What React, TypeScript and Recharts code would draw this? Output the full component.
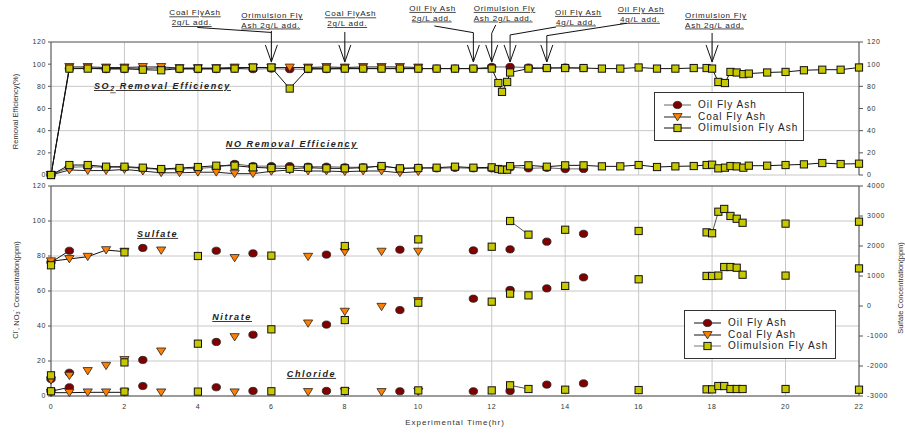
import React from 'react';
import { LineChart, Line, XAxis, YAxis, CartesianGrid, Legend, ReferenceDot } from 'recharts';

const FONT = '"Liberation Sans", Arial, Helvetica, sans-serif';

const OIL = '#800000';
const COAL = '#ff8000';
const OLIM = '#c8c800';

// axis ticks
const evenHours = [0, 2, 4, 6, 8, 10, 12, 14, 16, 18, 20, 22];
const oddHours = [1, 3, 5, 7, 9, 11, 13, 15, 17, 19, 21];
const effTicks = [0, 20, 40, 60, 80, 100, 120];
const concTicks = [0, 20, 40, 60, 80, 100, 120];
const sulfTicks = [-3000, -2000, -1000, 0, 1000, 2000, 3000, 4000];

// ---- removal efficiency (%) ----
const oilTimes = [0, 0.5, 1, 1.5, 2, 2.5, 3, 3.5, 4, 4.5, 5, 5.5, 6, 6.5, 7, 7.5, 8, 8.5, 9, 9.5, 10, 10.5, 11, 11.5, 12, 12.5, 13, 13.5, 14, 14.5];
const oilSO2 = [0, 96, 96.5, 95.5, 95.5, 96, 96.5, 95.5, 95.5, 95.5, 96, 95.5, 96, 95.5, 95.5, 95.5, 96, 96, 96, 96, 96, 96, 96, 96, 97.5, 97.5, 97, 96.5, 97, 96.5];
const oilNO = [0, 7, 7.5, 7, 7, 6, 5, 5.5, 6, 7, 10, 8, 8, 8, 7.5, 7.5, 7, 7, 8, 6, 6.5, 6, 6.5, 6, 6, 7, 6, 6.5, 5.5, 5.5];

const coalTimes = [0, 0.5, 1, 1.5, 2, 2.5, 3, 3.5, 4, 4.5, 5, 5.5, 6, 6.5, 7, 7.5, 8, 8.5, 9, 9.5, 10];
const coalSO2 = [0, 97.5, 97.5, 97, 97, 97.5, 97.5, 96.5, 96.5, 96.5, 97, 97, 97, 97, 97, 97.5, 97, 97.5, 97.5, 97.5, 97];
const coalNO = [0, 4.5, 4, 4, 5, 3.5, 2, 2, 2.5, 2.5, 1.2, 1.2, 3.3, 4.5, 3.6, 3.6, 3, 3.6, 3.6, 2, 3];

const olimTimes = [0, 0.5, 1, 1.5, 2, 2.5, 3, 3.5, 4, 4.5, 5, 5.5, 6, 6.5, 7, 7.5, 8, 8.5, 9, 9.5, 10, 10.5, 11, 11.5, 12,
  12.18, 12.28, 12.42, 12.5, 13, 13.5, 14, 14.5, 15, 15.5, 16, 16.5, 17, 17.5,
  17.85, 18, 18.17, 18.35, 18.5, 18.67, 18.85, 19, 19.5, 20, 20.5, 21, 21.5, 22];
const olimSO2 = [0, 96, 96, 96, 96, 95, 94.5, 96, 96, 96, 96, 97, 97, 78, 96, 96, 96, 96, 96, 96, 96, 96, 96, 96, 96,
  83, 75, 84, 92.5, 96, 96.5, 96.5, 96.5, 96, 96, 97, 96, 96, 96.5,
  96.5, 96, 84, 83, 93, 92.5, 91, 91.5, 92.5, 93, 94.5, 95, 95, 97];
const olimNO = [0, 9, 9, 7.5, 7.5, 6.6, 5.4, 6.3, 7.2, 8.4, 8.4, 6.9, 6.3, 5.7, 6.6, 6, 6, 6.6, 8.1, 6, 6.3, 6.6, 7.5, 6.6, 6.9,
  5.4, 4.8, 4.8, 8, 8.7, 7.5, 8.7, 8.7, 7.8, 7.8, 9, 7.2, 7.8, 8.1,
  9, 9.3, 6, 6.6, 8.1, 7.8, 6.6, 8.4, 8.4, 9, 9.6, 10.8, 9.9, 10.2];

// ---- ion concentrations (ppm) ----
const oilIonTimes = [0, 0.5, 2.5, 4.5, 5.5, 7.5, 9.5, 11.5, 12.5, 13.5, 14.5];
const oilSulfate = [76.4, 83, 84.6, 83, 81.5, 80.8, 83.6, 83.2, 83.8, 88.2, 92.7];
const oilNitrate = [9.7, 13.3, 20.6, 30.9, 35, 40.8, 49.1, 55.6, 60.6, 61.5, 67.8];
const oilChloride = [2.7, 5, 5.7, 5, 2.9, 2.9, 2.7, 2.7, 2.9, 6.5, 7.2];

const coalIonTimes = [0, 0.5, 1, 1.5, 2, 3, 5, 7, 8, 9, 10];
const coalSulfate = [77, 78.3, 79.6, 83.4, 82.5, 83.2, 78.9, 79.6, 82.3, 82.5, 82.5];
const coalNitrate = [9, 11.6, 14.3, 17.3, 20.6, 25.5, 33.7, 41.5, 48.2, 51, 54.3];
const coalChloride = [1.9, 1.9, 2.1, 2.1, 2.1, 2.1, 2.1, 2.3, 2.5, 2.3, 2.5];

const olimIonTimes = [0, 2, 4, 6, 8, 10, 12, 12.5, 13, 14, 16, 17.85, 18, 18.17, 18.33, 18.5, 18.67, 18.83, 20, 22];
const olimSulfate = [74.7, 82.1, 80, 80.2, 85.7, 89.5, 85.3, 100, 92.2, 95, 94.3, 93.5, 93, 105.3, 106.9, 102.9, 101.3, 99, 98.5, 99.6];
const olimNitrate = [11.8, 19.2, 29.9, 38.1, 43.4, 53.3, 53.9, 58.5, 57.5, 62.9, 66.7, 68.6, 68.6, 68.8, 73.7, 73.7, 73.3, 69.3, 68.8, 72.9];
const olimChloride = [2.7, 2.5, 2.5, 2.7, 2.9, 3.2, 3.2, 6.1, 4, 3.6, 3.4, 3.8, 3.8, 5.7, 5.7, 4, 4, 4, 4, 3.6];

// runs of points that are joined by a line (time from, time to)
const oilLinks = [[0, 0.5]];
const coalLinks = [[0, 2]];
const olimLinks = [[12.5, 13], [17.85, 18.83]];

// ash addition notes (arrow tip sits just above the 100 % line)
const notes = [
  { at: 6, lines: ['Coal FlyAsh', '2g/L add.'], indent: 2.5, dx: -102, dy: -46.5, lead: [-74, -34.5], top: -29.5, arrow: false },
  { at: 6, lines: ['Orimulsion Fly', 'Ash 2g/L add.'], indent: 0, dx: -30, dy: -44, lead: null, top: -31, arrow: true },
  { at: 8, lines: ['Coal FlyAsh', '2g/L add.'], indent: 2.5, dx: -20, dy: -45.5, lead: null, top: -30, arrow: true },
  { at: 11.5, lines: ['Oil Fly Ash', '2g/L add.'], indent: 2.5, dx: -64, dy: -51, lead: [-39, -36], top: -29.3, arrow: true },
  { at: 12, lines: ['Orimulsion Fly', 'Ash 2g/L add.'], indent: 0, dx: -18, dy: -51, lead: [4, -37], top: -28.7, arrow: true },
  { at: 12.5, lines: ['Oil Fly Ash', '4g/L add.'], indent: 1, dx: 45, dy: -47, lead: [46, -35], top: -27, arrow: true },
  { at: 13.5, lines: ['Oil Fly Ash', '4g/L add.'], indent: 2.3, dx: 71, dy: -49.7, lead: [80, -38.7], top: -26.3, arrow: true },
  { at: 18, lines: ['Orimulsion Fly', 'Ash 2g/L add.'], indent: 0, dx: -27, dy: -44, lead: null, top: -29, arrow: true },
];

type Pt = { t: number; v: number };
const pts = (ts: number[], vs: number[]): Pt[] => ts.map((t, i) => ({ t, v: vs[i] }));
const span = (p: Pt[], a: number, b: number) => p.filter((d) => d.t >= a && d.t <= b);

const circleDot = (p: any) =>
  p.cx == null || p.cy == null ? null : (
    <ellipse key={`c-${p.index}`} cx={p.cx} cy={p.cy} rx={4.2} ry={3.6} fill={OIL} stroke="#222" strokeWidth={0.8} />
  );
const triDot = (p: any) =>
  p.cx == null || p.cy == null ? null : (
    <polygon
      key={`t-${p.index}`}
      points={`${p.cx - 4.6},${p.cy - 3.4} ${p.cx + 4.6},${p.cy - 3.4} ${p.cx},${p.cy + 3.9}`}
      fill={COAL}
      stroke="#222"
      strokeWidth={0.8}
    />
  );
const squareDot = (p: any) =>
  p.cx == null || p.cy == null ? null : (
    <rect key={`s-${p.index}`} x={p.cx - 3.6} y={p.cy - 3.6} width={7.2} height={7.2} fill={OLIM} stroke="#111" strokeWidth={1} />
  );

const tickStyle = { fontSize: 7, fill: '#333', fontFamily: FONT, letterSpacing: 0.6 };

const axisTitle = (text: React.ReactNode, dx: number, dy: number) => (props: any) => {
  const vb = props.viewBox || {};
  const cx = vb.x + dx;
  const cy = vb.y + vb.height / 2 + dy;
  return (
    <text x={cx} y={cy} transform={`rotate(-90 ${cx} ${cy})`} textAnchor="middle" dominantBaseline="central"
      fontSize={7.5} fill="#333" fontFamily={FONT}>
      {text}
    </text>
  );
};

function Note({ cx, cy, note }: any) {
  return (
    <g>
      {note.lines.map((s: string, i: number) => (
        <text key={i} x={cx + note.dx + (i ? note.indent : 0)} y={cy + note.dy + i * 9.6} fontSize={8} fontFamily={FONT}
          letterSpacing={0.75} fill="#222" textDecoration="underline">
          {s}
        </text>
      ))}
      {note.lead && <line x1={cx + note.lead[0]} y1={cy + note.lead[1]} x2={cx} y2={cy + note.top} stroke="#111" strokeWidth={1} />}
      {note.arrow && (
        <g stroke="#111" strokeWidth={1} fill="none">
          <line x1={cx} y1={cy + note.top} x2={cx} y2={cy} />
          <polyline points={`${cx - 6},${cy - 17} ${cx},${cy} ${cx + 6},${cy - 17}`} />
        </g>
      )}
    </g>
  );
}

const plotLabel = (content: React.ReactNode) => (p: any) => (
  <text x={p.cx} y={p.cy} fontSize={9} fontWeight="bold" fontStyle="italic" letterSpacing={1.6}
    textDecoration="underline" fill="#222" fontFamily={FONT}>
    {content}
  </text>
);

type Item = { name: string; line: string; dot: (p: any) => any };

function LegendBox({ items, width, rowH, padTop }: { items: Item[]; width: number; rowH: number; padTop: number }) {
  return (
    <div style={{ width, boxSizing: 'border-box', border: '1px solid #333', background: '#fff', padding: `${padTop}px 0 ${padTop}px 9px` }}>
      {items.map((it) => (
        <div key={it.name} style={{ display: 'flex', alignItems: 'center', height: rowH }}>
          <svg width={27} height={10} style={{ overflow: 'visible' }}>
            <line x1={0} y1={5} x2={27} y2={5} stroke={it.line} strokeWidth={1} />
            {it.dot({ cx: 13.5, cy: 5, index: 0 })}
          </svg>
          <span style={{ marginLeft: 7, fontFamily: FONT, fontSize: 10, letterSpacing: 1, color: '#222', lineHeight: 1 }}>{it.name}</span>
        </div>
      ))}
    </div>
  );
}

const topItems: Item[] = [
  { name: 'Oil Fly Ash', line: '#666', dot: circleDot },
  { name: 'Coal Fly Ash', line: '#222', dot: triDot },
  { name: 'Olimulsion Fly Ash', line: '#111', dot: squareDot },
];
const bottomItems: Item[] = [
  { name: 'Oil Fly Ash', line: '#111', dot: circleDot },
  { name: 'Coal Fly Ash', line: '#111', dot: triDot },
  { name: 'Olimulsion Fly Ash', line: '#777', dot: squareDot },
];

function EfficiencyChart() {
  return (
    <LineChart width={905} height={186} margin={{ top: 42, right: 16, bottom: 11, left: 21 }}>
      <CartesianGrid stroke="#c8c8c8" />
      <XAxis dataKey="t" type="number" domain={[0, 22]} ticks={evenHours} hide />
      <XAxis xAxisId="top" orientation="top" type="number" domain={[0, 22]} mirror ticks={evenHours} allowDataOverflow
        tickFormatter={() => ''} tickLine={false} axisLine={{ stroke: '#666' }} />
      <YAxis type="number" domain={[0, 120]} ticks={effTicks} width={30} tick={tickStyle} tickSize={3} tickMargin={2}
        axisLine={{ stroke: '#555' }} tickLine={{ stroke: '#555' }}
        label={{ content: axisTitle('Removal Efficiency(%)', -5.5, 3) }} />
      <YAxis yAxisId="right" orientation="right" type="number" domain={[0, 120]} ticks={effTicks} width={30} allowDataOverflow
        tick={tickStyle} tickSize={4} tickMargin={4} axisLine={{ stroke: '#555' }} tickLine={{ stroke: '#555' }} />

      <Line data={pts(oilTimes, oilSO2)} dataKey="v" stroke="#666" strokeWidth={1} dot={circleDot} activeDot={false} isAnimationActive={false} />
      <Line data={pts(oilTimes, oilNO)} dataKey="v" stroke="#666" strokeWidth={1} dot={circleDot} activeDot={false} isAnimationActive={false} />
      <Line data={pts(coalTimes, coalSO2)} dataKey="v" stroke="#222" strokeWidth={1} dot={triDot} activeDot={false} isAnimationActive={false} />
      <Line data={pts(coalTimes, coalNO)} dataKey="v" stroke="#222" strokeWidth={1} dot={triDot} activeDot={false} isAnimationActive={false} />
      <Line data={pts(olimTimes, olimSO2)} dataKey="v" stroke="#111" strokeWidth={1} dot={squareDot} activeDot={false} isAnimationActive={false} />
      <Line data={pts(olimTimes, olimNO)} dataKey="v" stroke="#111" strokeWidth={1} dot={squareDot} activeDot={false} isAnimationActive={false} />

      <ReferenceDot x={1.17} y={77.6} ifOverflow="visible"
        shape={plotLabel(<>SO<tspan fontSize={7} dy={2.5}>2</tspan><tspan dy={-2.5}> Removal Efficiency</tspan></>)} />
      <ReferenceDot x={4.76} y={25.3} ifOverflow="visible" shape={plotLabel('NO Removal Efficiency')} />
      {notes.map((n, i) => (
        <ReferenceDot key={i} x={n.at} y={102} ifOverflow="visible" shape={(p: any) => <Note cx={p.cx} cy={p.cy} note={n} />} />
      ))}

      <Legend layout="vertical" align="center" verticalAlign="middle" wrapperStyle={{ left: 654, top: 92, width: 150 }}
        content={() => <LegendBox items={topItems} width={150} rowH={11.7} padTop={6} />} />
    </LineChart>
  );
}

function IonChart() {
  const groups = [
    { links: oilLinks, dot: circleDot, line: '#111', t: oilIonTimes, s: oilSulfate, n: oilNitrate, c: oilChloride },
    { links: coalLinks, dot: triDot, line: '#111', t: coalIonTimes, s: coalSulfate, n: coalNitrate, c: coalChloride },
    { links: olimLinks, dot: squareDot, line: '#555', t: olimIonTimes, s: olimSulfate, n: olimNitrate, c: olimChloride },
  ];
  const segs: React.ReactNode[] = [];
  const marks: React.ReactNode[] = [];
  groups.forEach((g, gi) => {
    const sul = pts(g.t, g.s);
    const nit = pts(g.t, g.n);
    const chl = pts(g.t, g.c);
    g.links.forEach(([a, b], li) => {
      [sul, chl].forEach((series, si) => {
        segs.push(
          <Line key={`seg-${gi}-${li}-${si}`} data={span(series, a, b)} dataKey="v" stroke={g.line} strokeWidth={1}
            dot={false} activeDot={false} isAnimationActive={false} />
        );
      });
    });
    [sul, nit, chl].forEach((series, si) => {
      marks.push(
        <Line key={`pt-${gi}-${si}`} data={series} dataKey="v" stroke="none" dot={g.dot} activeDot={false} isAnimationActive={false} />
      );
    });
  });

  return (
    <LineChart width={905} height={257} margin={{ top: 10, right: 16, bottom: 0, left: 21 }}>
      <CartesianGrid stroke="#c8c8c8" />
      <XAxis dataKey="t" type="number" domain={[0, 22]} ticks={evenHours} height={37} tick={tickStyle}
        tickLine={false} tickSize={4} tickMargin={4} axisLine={{ stroke: '#555' }}
        label={{ value: 'Experimental Time(hr)', position: 'insideBottom', offset: 8, fontSize: 8, fill: '#333', fontFamily: FONT, letterSpacing: 1 }} />
      <XAxis xAxisId="minor" type="number" domain={[0, 22]} ticks={oddHours} mirror tickFormatter={() => ''} allowDataOverflow
        tickSize={2} axisLine={false} tickLine={{ stroke: '#444' }} />
      <XAxis xAxisId="top" orientation="top" type="number" domain={[0, 22]} ticks={oddHours} mirror tickFormatter={() => ''} allowDataOverflow
        tickSize={4} axisLine={{ stroke: '#555' }} tickLine={{ stroke: '#444' }} />
      <YAxis type="number" domain={[0, 120]} ticks={concTicks} width={30} tick={tickStyle} tickSize={3} tickMargin={2}
        axisLine={{ stroke: '#555' }} tickLine={{ stroke: '#555' }}
        label={{ content: axisTitle(<>Cl<tspan dy={-3} fontSize={5.5}>-</tspan><tspan dy={3}>, NO</tspan><tspan dy={2} fontSize={5.5}>3</tspan><tspan dy={-5} fontSize={5.5}>-</tspan><tspan dy={3}> Concentration(ppm)</tspan></>, -5.5, -1) }} />
      <YAxis yAxisId="right" orientation="right" type="number" domain={[-3000, 4000]} ticks={sulfTicks} width={30} allowDataOverflow
        tick={tickStyle} tickSize={4} tickMargin={4} axisLine={{ stroke: '#555' }} tickLine={{ stroke: '#555' }}
        label={{ content: axisTitle('Sulfate Concentration(ppm)', 41.5, -3) }} />

      {segs}
      {marks}

      <ReferenceDot x={2.34} y={90.9} ifOverflow="visible" shape={plotLabel('Sulfate')} />
      <ReferenceDot x={4.39} y={43.4} ifOverflow="visible" shape={plotLabel('Nitrate')} />
      <ReferenceDot x={6.42} y={10.9} ifOverflow="visible" shape={plotLabel('Chloride')} />

      <Legend layout="vertical" align="center" verticalAlign="middle" wrapperStyle={{ left: 684, top: 134, width: 152 }}
        content={() => <LegendBox items={bottomItems} width={152} rowH={11.7} padTop={6} />} />
    </LineChart>
  );
}

export default function App() {
  return (
    <div style={{ position: 'absolute', left: 0, top: 0, width: 905, height: 433, background: '#fff' }}>
      <div style={{ position: 'absolute', left: 0, top: 0 }}>
        <EfficiencyChart />
      </div>
      <div style={{ position: 'absolute', left: 0, top: 176 }}>
        <IonChart />
      </div>
    </div>
  );
}
